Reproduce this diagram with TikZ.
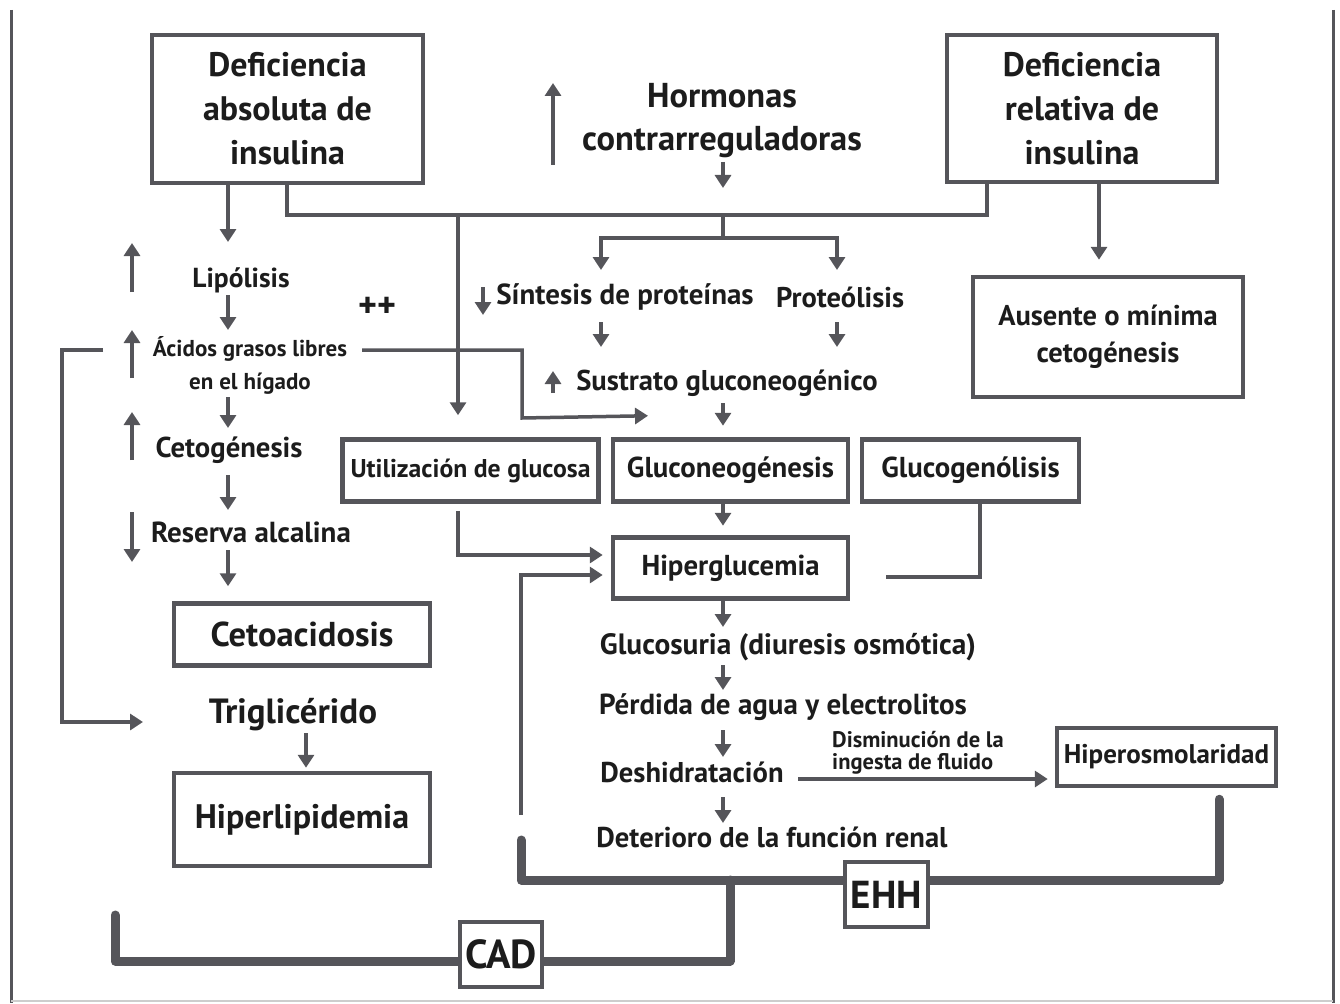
\documentclass[tikz,border=0pt]{standalone}
\usepackage{fontspec}
\setmainfont{PT Sans}
\usetikzlibrary{arrows.meta,calc}
\pgfdeclarelayer{bg}
\pgfsetlayers{bg,main}
\definecolor{lc}{RGB}{85,85,90}
\definecolor{tc}{RGB}{28,28,28}
\definecolor{fc}{RGB}{205,205,205}
\newcommand{\myfs}[2]{\fontsize{#1}{#2}\selectfont\bfseries}
\tikzset{
 conn/.style={draw=lc, line width=3.5pt},
 arr/.style={conn, -{Triangle[length=13pt,width=16pt]}},
 heavy/.style={draw=lc, line width=9pt, line cap=round, line join=round},
 box/.style={draw=lc, line width=4.5pt, fill=white, text=tc, align=center, inner sep=0pt},
 txt/.style={text=tc, align=center, inner sep=0pt},
}
\begin{document}
\begin{tikzpicture}[x=1pt,y=-1pt]
\useasboundingbox (0,0) rectangle (1340,1003);
% frame
\draw[lc, line width=3pt] (11,10) -- (11,1003);
\draw[lc, line width=3pt] (1333,10) -- (1333,1003);
\draw[fc, line width=2pt] (11,1001) -- (1333,1001);

% top boxes
\node[box, minimum width=271pt, minimum height=148pt, font={\myfs{34}{44}}] (b1) at (287.5,109) {Deficiencia\\absoluta de\\insulina};
\node[box, minimum width=270pt, minimum height=147pt, font={\myfs{34}{44}}] (b2) at (1082,108.5) {Deficiencia\\relativa de\\insulina};
\node[txt, font={\myfs{34.5}{43}}] (horm) at (722,121) {Hormonas\\contrarreguladoras};
\node[box, minimum width=270pt, minimum height=120pt, font={\myfs{28.5}{37}}] (aus) at (1108,337) {Ausente o mínima\\cetogénesis};

% left column
\node[txt, font={\myfs{27.5}{30}}] (lip) at (241,280) {Lipólisis};
\node[txt, font={\myfs{36}{30}}] (plus) at (377,307) {++};
\node[txt, font={\myfs{23}{33}}] (acid) at (250,365) {Ácidos grasos libres\\en el hígado};
\node[txt, font={\myfs{28.7}{30}}] (ceto) at (229,450) {Cetogénesis};
\node[txt, font={\myfs{29}{30}}] (res) at (251,532) {Reserva alcalina};
\node[box, minimum width=256pt, minimum height=62pt, font={\myfs{34.5}{34}}] (cetoac) at (302,634.5) {Cetoacidosis};
\node[txt, font={\myfs{35}{34}}] (trig) at (293,715) {Triglicérido};
\node[box, minimum width=256pt, minimum height=93pt, font={\myfs{34}{34}}] (hlip) at (302,819.5) {Hiperlipidemia};

% middle column
\node[txt, font={\myfs{29}{30}}] (sint) at (625,297) {Síntesis de proteínas};
\node[txt, font={\myfs{28.5}{30}}] (prot) at (840,297) {Proteólisis};
\node[txt, font={\myfs{28.6}{30}}] (sust) at (727,383) {Sustrato gluconeogénico};
\node[box, minimum width=256pt, minimum height=62pt, font={\myfs{25.7}{26}}] (util) at (470.5,470.5) {Utilización de glucosa};
\node[box, minimum width=235pt, minimum height=62pt, font={\myfs{28.8}{28}}] (gneo) at (730.5,470.5) {Gluconeogénesis};
\node[box, minimum width=217pt, minimum height=62pt, font={\myfs{28.8}{28}}] (glgn) at (970.5,470.5) {Glucogenólisis};
\node[box, minimum width=235pt, minimum height=61pt, font={\myfs{28.8}{28}}] (hgl) at (730.5,568) {Hiperglucemia};
\node[txt, font={\myfs{29.4}{30}}] (gluc) at (788,647) {Glucosuria (diuresis osmótica)};
\node[txt, font={\myfs{29}{30}}] (perd) at (783,707) {Pérdida de agua y electrolitos};
\node[txt, font={\myfs{28.6}{30}}] (desh) at (692,772) {Deshidratación};
\node[txt, font={\myfs{28.6}{30}}] (det) at (772,837) {Deterioro de la función renal};
\node[txt, align=left, anchor=west, font={\myfs{22.5}{22}}] (dism) at (832,753) {Disminución de la\\ingesta de fluido};
\node[box, minimum width=219pt, minimum height=58pt, font={\myfs{27}{26}}] (hosm) at (1166.5,757) {Hiperosmolaridad};
\node[box, minimum width=83pt, minimum height=65pt, font={\myfs{39}{40}}] (ehh) at (886.5,894.5) {EHH};
\node[box, minimum width=82pt, minimum height=65pt, font={\myfs{40.5}{40}}] (cad) at (501,954.5) {CAD};

% coordinates
\coordinate (jL) at (287,215);
\coordinate (jR) at (987,215);
\coordinate (jM) at (723,215);
\coordinate (jU) at (458,215);
\coordinate (bM) at (723,238);
\coordinate (bL) at (601,238);
\coordinate (bR) at (837,238);
\coordinate (cL) at (228,0);
\coordinate (cT) at (306,0);
\coordinate (cM) at (723,0);
\coordinate (cA) at (1099,0);
\coordinate (cG) at (980,0);
\coordinate (cK) at (522,418);
\coordinate (cB) at (521,815);
\coordinate (e1) at (521,840);
\coordinate (e2) at (1219,880);
\coordinate (e3) at (730,880);
\coordinate (e4) at (115,961);
% indicator arrows (up / down)
\coordinate (iH) at (553,165);
\coordinate (i1) at (132,292);
\coordinate (i2) at (132,378);
\coordinate (i3) at (132,460);
\coordinate (i4) at (132,512);
\coordinate (i5) at (483,287);
\coordinate (i6) at (553,393);

\begin{pgfonlayer}{bg}
% indicators
\draw[arr] (iH) -- ++(0,-82);
\draw[arr] (i1) -- ++(0,-49);
\draw[arr] (i2) -- ++(0,-48);
\draw[arr] (i3) -- ++(0,-48);
\draw[arr] (i4) -- ++(0,50);
\draw[arr] (i5) -- ++(0,28);
\draw[arr] (i6) -- ++(0,-22);

% top tree
\draw[conn] (b1.south -| jL) -- (jL) -- (jR) -- (b2.south -| jR);
\draw[arr] ($(horm.center -| cM)+(0,41)$) -- ($(jM)+(0,-27)$);
\draw[conn] (jM) -- (bM);
\draw[arr] (bM) -- (bL) -- ($(sint.center -| bL)+(0,-27)$);
\draw[arr] (bM) -- (bR) -- ($(prot.center -| bR)+(0,-27)$);
\draw[arr] (jU) -- ($(util.north -| jU)+(0,-22)$);
\draw[arr] (b2.south -| cA) -- ($(aus.north -| cA)+(0,-15)$);

% left chain
\draw[arr] (b1.south -| cL) -- ($(lip.center -| cL)+(0,-38)$);
\draw[arr] ($(lip.center -| cL)+(0,15)$) -- ($(acid.center -| cL)+(0,-35)$);
\draw[arr] ($(acid.center -| cL)+(0,32)$) -- ($(ceto.center -| cL)+(0,-22)$);
\draw[arr] ($(ceto.center -| cL)+(0,25)$) -- ($(res.center -| cL)+(0,-22)$);
\draw[arr] ($(res.center -| cL)+(0,18)$) -- ($(cetoac.north -| cL)+(0,-15)$);
\draw[arr] ($(trig.center -| cT)+(0,18)$) -- ($(hlip.north -| cT)+(0,-3)$);
\draw[arr] ($(acid.center)+(-147,-15)$) -- ++(-41,0) |- ($(trig.center)+(-150,7)$);
\draw[arr] ($(acid.center)+(112,-15)$) -| (cK) -- ($(gneo.north)+(-82.5,-21.5)$);

% middle chain
\draw[arr] ($(sint.center -| bL)+(0,25)$) -- ($(sust.center -| bL)+(0,-36)$);
\draw[arr] ($(prot.center -| bR)+(0,25)$) -- ($(sust.center -| bR)+(0,-36)$);
\draw[arr] ($(sust.center -| cM)+(0,20)$) -- ($(gneo.north -| cM)+(0,-11.5)$);
\draw[arr] (gneo.south -| cM) -- ($(hgl.north -| cM)+(0,-9.5)$);
\draw[arr] ($(util.south -| jU)+(0,7)$) |- ($(hgl.west)+(-8,-13)$);
\draw[arr] (cB) |- ($(hgl.west)+(-8,7)$);
\draw[conn] (glgn.south -| cG) |- ($(hgl.east)+(36,9)$);
\draw[arr] (hgl.south -| cM) -- ($(gluc.center -| cM)+(0,-20)$);
\draw[arr] ($(gluc.center -| cM)+(0,18)$) -- ($(perd.center -| cM)+(0,-17)$);
\draw[arr] ($(perd.center -| cM)+(0,23)$) -- ($(desh.center -| cM)+(0,-15)$);
\draw[arr] ($(desh.center -| cM)+(0,25)$) -- ($(det.center -| cM)+(0,-14)$);
\draw[arr] ($(desh.center)+(106,7)$) -- ($(hosm.west)+(-7,22)$);

% heavy brackets
\draw[heavy] (e1) -- (e1 |- e2) -- (e2) -- ($(hosm.south -| e2)+(0,11)$);
\draw[heavy] (e3) |- (e4) -- ++(0,-46);
\end{pgfonlayer}
\end{tikzpicture}
\end{document}
